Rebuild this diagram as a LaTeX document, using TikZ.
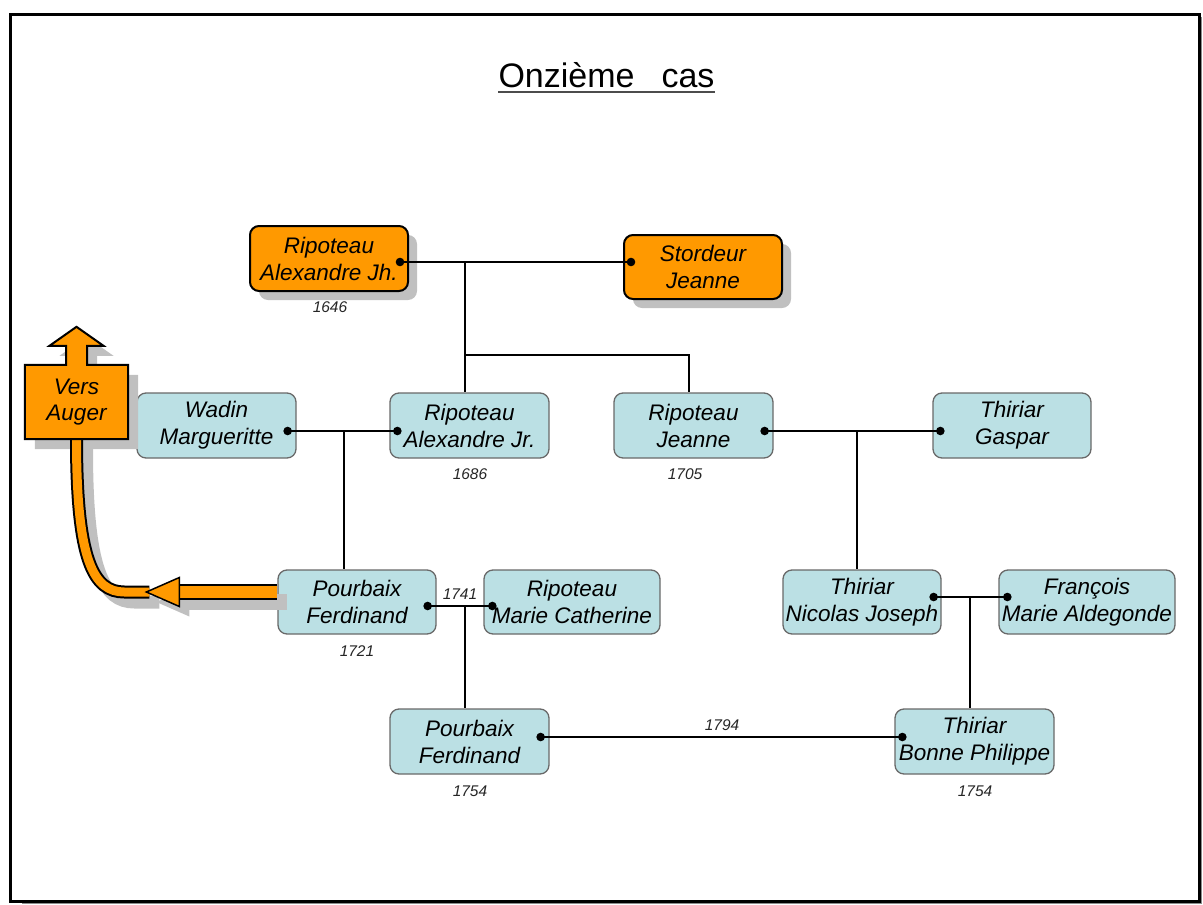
\documentclass[tikz,border=0pt]{standalone}
\usepackage{fontspec}
\setmainfont{Liberation Sans}
\usetikzlibrary{calc,shadows}
\definecolor{boxorange}{RGB}{255,153,0}
\definecolor{boxblue}{RGB}{187,224,228}
\definecolor{boxedge}{RGB}{105,105,105}
\definecolor{shgray}{RGB}{192,192,192}

\begin{document}
\begin{tikzpicture}[x=1pt,y=-1pt,
  person/.style={rectangle, rounded corners=9pt, minimum width=158pt,
    minimum height=65pt, align=center, inner sep=0pt,
    font=\fontsize{22.5}{27}\selectfont\itshape},
  bluebox/.style={person, fill=boxblue, draw=boxedge, line width=1.3pt},
  orangebox/.style={person, fill=boxorange, draw=black, line width=2pt,
    drop shadow={shadow xshift=9pt, shadow yshift=-9pt, fill=shgray, opacity=1}},
  year/.style={font=\fontsize{15.5}{17}\selectfont\itshape, text=black!85, inner sep=0pt},
  link/.style={line width=2pt, black},
  bandout/.style={line width=13pt},
  bandin/.style={line width=9pt}
]
\useasboundingbox (0,0) rectangle (1203,905);

% page frame
\draw[black!45, line width=1.5pt] (1201,17) -- (1201,903.5) -- (22,903.5);
\draw[line width=3pt] (10.5,14.5) rectangle (1199,901.5);

% title
\node[font=\fontsize{34}{40}\selectfont, anchor=base, inner sep=0pt] (title)
  at (606.5,87) {Onzième\hspace{27pt}cas};
\draw[black!70, line width=2pt] ($(title.base west)+(0,5)$) -- ($(title.base east)+(0,5)$);

% people
\node[orangebox] (jh) at (329,258.5) {Ripoteau\\Alexandre Jh.};
\node[orangebox, minimum height=64pt] (st) at (703,267) {Stordeur\\Jeanne};

\node[bluebox, minimum width=159pt] (wm) at (216.5,425.5) {Wadin\\Margueritte};
\node[bluebox, minimum width=159pt] (aj) at (469.5,425.5) {Ripoteau\\Alexandre Jr.};
\node[bluebox, minimum width=159pt] (rj) at (693.5,425.5) {Ripoteau\\Jeanne};
\node[bluebox] (tg) at (1012,425.5) {Thiriar\\Gaspar};

\node[bluebox, minimum height=64pt] (p1) at (357,602) {Pourbaix\\Ferdinand};
\node[bluebox, minimum width=176pt, minimum height=64pt] (mc) at (572,602) {Ripoteau\\Marie Catherine};
\node[bluebox, minimum height=64pt] (nj) at (862,602) {Thiriar\\Nicolas Joseph};
\node[bluebox, minimum width=176pt, minimum height=64pt] (fa) at (1087,602) {François\\Marie Aldegonde};

\node[bluebox, minimum width=159pt] (p2) at (469.5,741.5) {Pourbaix\\Ferdinand};
\node[bluebox, minimum width=159pt] (bp) at (974.5,741.5) {Thiriar\\Bonne Philippe};

% years
\node[year] (y1) at (330,307) {1646};
\node[year] (y2) at (470,474) {1686};
\node[year] (y3) at (685,474) {1705};
\node[year] (y4) at (357,651) {1721};
\node[year] (y5) at (470,791) {1754};
\node[year] (y6) at (975,791) {1754};
\node[year] (y7) at (460,594) {1741};
\node[year] (y8) at (722,725) {1794};

% marriage points
\coordinate (jhd) at ($(jh.east)+(-9,3.5)$);
\coordinate (std) at ($(st.west)+(8,-5)$);
\coordinate (wmd) at ($(wm.east)+(-9,5.5)$);
\coordinate (ajd) at ($(aj.west)+(8,5.5)$);
\coordinate (rjd) at ($(rj.east)+(-9,5.5)$);
\coordinate (tgd) at ($(tg.west)+(8,5.5)$);
\coordinate (p1d) at ($(p1.east)+(-9,4)$);
\coordinate (mcd) at ($(mc.west)+(9,4)$);
\coordinate (njd) at ($(nj.east)+(-8,-5)$);
\coordinate (fad) at ($(fa.west)+(9,-5)$);
\coordinate (p2d) at ($(p2.east)+(-9,-4.5)$);
\coordinate (bpd) at ($(bp.west)+(8,-4.5)$);

% descent junctions
\coordinate (j1) at (465,262);
\coordinate (j1b) at (465,355);
\coordinate (j1c) at (689,355);
\coordinate (j2) at (344,431);
\coordinate (j3) at (857,431);
\coordinate (j4) at (465,606);
\coordinate (j5) at (970,597);

\draw[link] (jhd) -- (std);
\draw[link] (j1) -- (j1 |- aj.north);
\draw[link] (j1b) -- (j1c) -- (j1c |- rj.north);
\draw[link] (wmd) -- (ajd);
\draw[link] (j2) -- (j2 |- p1.north);
\draw[link] (rjd) -- (tgd);
\draw[link] (j3) -- (j3 |- nj.north);
\draw[link] (p1d) -- (mcd);
\draw[link] (j4) -- (j4 |- p2.north);
\draw[link] (njd) -- (fad);
\draw[link] (j5) -- (j5 |- bp.north);
\draw[link] (p2d) -- (bpd);

\foreach \d in {jhd,std,wmd,ajd,rjd,tgd,p1d,mcd,njd,fad,p2d,bpd}
  \fill (\d) circle (4.3pt);

% "Vers Auger" marker with its pointer
\node[minimum width=103pt, minimum height=74pt, inner sep=0pt] (va) at (76.5,402) {};
\coordinate (bs) at ($(p1.west)+(0,-10)$);
\coordinate (hb) at ($(bs)+(-98,0)$);
\coordinate (ht) at ($(bs)+(-131,0)$);
\coordinate (cv) at ($(bs)+(-153,0)$);

% shadows
\begin{scope}[transform canvas={shift={(10pt,-10pt)}}]
  \draw[shgray, bandout] (va.south) .. controls ($(va.south)+(0,121)$) and ($(cv)+(-31,0)$) .. (cv) -- ($(ht)+(3,0)$);
  \draw[shgray, line width=16pt] (hb) -- (bs);
  \fill[shgray] (ht) -- ($(hb)+(0,-14.5)$) -- ($(hb)+(0,14.5)$) -- cycle;
  \fill[shgray] (va.south west) -- (va.north west) -- ($(va.north)+(-10.5,0)$)
    -- ($(va.north)+(-10.5,-19)$) -- ($(va.north)+(-27,-19)$) -- ($(va.north)+(0,-38)$)
    -- ($(va.north)+(27,-19)$) -- ($(va.north)+(10.5,-19)$) -- ($(va.north)+(10.5,0)$)
    -- (va.north east) -- (va.south east) -- cycle;
\end{scope}

% pointer band
\draw[black, bandout] (va.south) .. controls ($(va.south)+(0,121)$) and ($(cv)+(-31,0)$) .. (cv) -- ($(ht)+(3,0)$);
\draw[boxorange, bandin] (va.south) .. controls ($(va.south)+(0,121)$) and ($(cv)+(-31,0)$) .. (cv) -- ($(ht)+(3,0)$);
\draw[black, line width=16pt] (hb) -- (bs);
\draw[boxorange, line width=12pt] ($(hb)+(-1,0)$) -- (bs);
\filldraw[fill=boxorange, draw=black, line width=1.5pt, line join=miter]
  (ht) -- ($(hb)+(0,-14.5)$) -- ($(hb)+(0,14.5)$) -- cycle;

% box with upward arrow
\filldraw[fill=boxorange, draw=black, line width=2pt, line join=miter]
  (va.south west) -- (va.north west) -- ($(va.north)+(-10.5,0)$)
  -- ($(va.north)+(-10.5,-19)$) -- ($(va.north)+(-27,-19)$) -- ($(va.north)+(0,-38)$)
  -- ($(va.north)+(27,-19)$) -- ($(va.north)+(10.5,-19)$) -- ($(va.north)+(10.5,0)$)
  -- (va.north east) -- (va.south east) -- cycle;
\node[align=center, inner sep=0pt, font=\fontsize{22.5}{26}\selectfont\itshape] (vatext) at (va) {Vers\\Auger};
\end{tikzpicture}
\end{document}
